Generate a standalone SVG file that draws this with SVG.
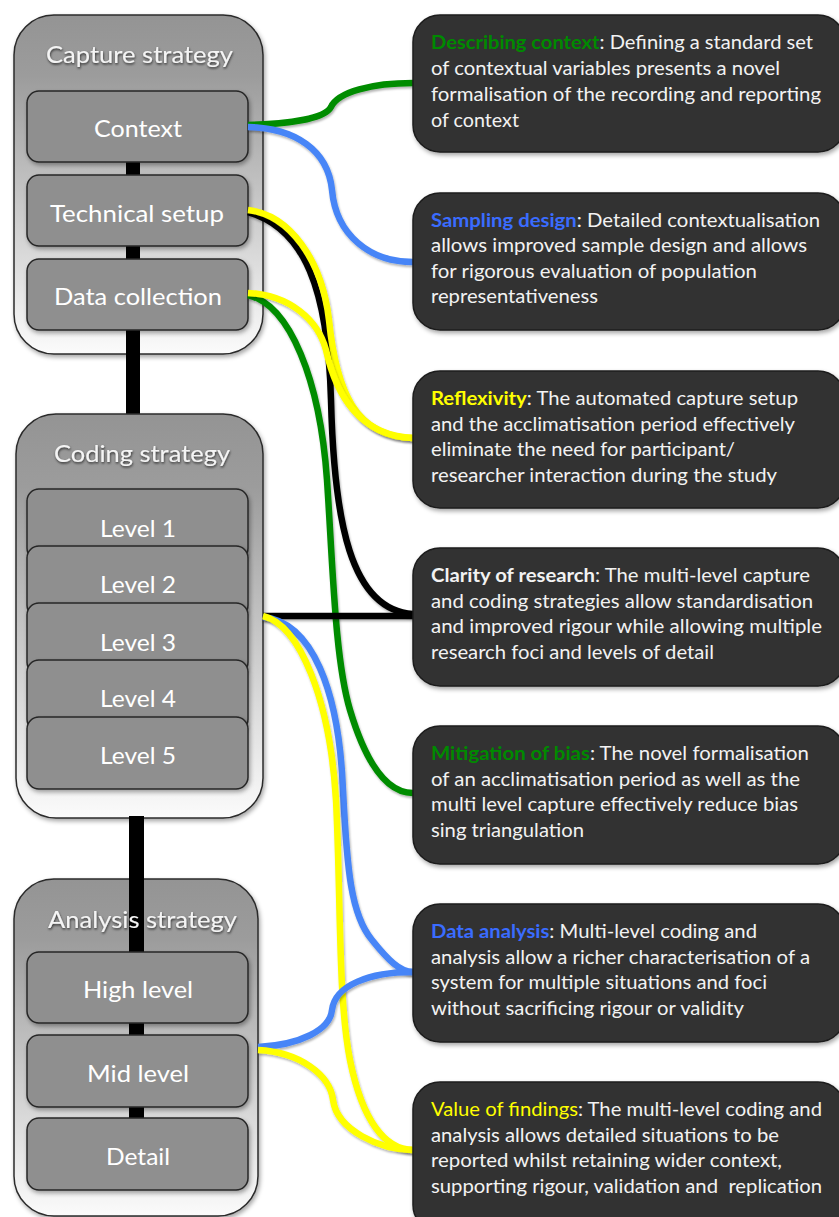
<svg xmlns="http://www.w3.org/2000/svg" width="839" height="1217" viewBox="0 0 839 1217">
<defs>
<linearGradient id="outerGrad" x1="0" y1="0" x2="0" y2="1">
<stop offset="0" stop-color="#949494"/>
<stop offset="0.18" stop-color="#9c9c9c"/>
<stop offset="1" stop-color="#fbfbfb"/>
</linearGradient>
<filter id="shadow" x="-10%" y="-10%" width="130%" height="130%">
<feDropShadow dx="1.5" dy="2.5" stdDeviation="2" flood-color="#000" flood-opacity="0.35"/>
</filter>
<filter id="lineShadow" filterUnits="userSpaceOnUse" x="0" y="0" width="839" height="1217">
<feDropShadow dx="1" dy="2" stdDeviation="1.2" flood-color="#000" flood-opacity="0.3"/>
</filter>
<filter id="textShadow" x="-10%" y="-30%" width="120%" height="160%">
<feDropShadow dx="0.5" dy="1.5" stdDeviation="1.2" flood-color="#000" flood-opacity="0.7"/>
</filter>
</defs>
<style>
.outer{fill:url(#outerGrad);stroke:#2b2b2b;stroke-width:1.5;filter:url(#shadow)}
.inner{fill:#8f8f8f;stroke:#262626;stroke-width:1.5;filter:url(#shadow)}
.lbl{font-family:Lato,"Liberation Sans",sans-serif;font-size:24px;fill:#ffffff}
.ttl{font-family:Lato,"Liberation Sans",sans-serif;font-size:24px;fill:#f4f4f4;filter:url(#textShadow)}
.spine{fill:#000}
.card{fill:#333333;stroke:#1c1c1c;stroke-width:1.5;filter:url(#shadow)}
.txt{font-family:Lato,"Liberation Sans",sans-serif;font-size:18.5px;fill:#f2f2f2}
.b{font-weight:bold}
.hg{fill:#008a00}
.hb{fill:#3a6cff}
.hy{fill:#ffff00}
.c{fill:none;stroke-width:6.5;stroke-linecap:butt;filter:url(#lineShadow)}
.cg{stroke:#008c00}
.cb{stroke:#4785f7}
.cy{stroke:#ffff00}
.ck{stroke:#000}
</style>

<g id="capture-strategy">
<rect class="outer" x="14" y="15" width="249" height="339" rx="40"/>
<rect class="spine" x="126" y="160" width="14" height="18"/>
<rect class="spine" x="126" y="244" width="14" height="18"/>
<rect class="spine" x="126" y="328" width="14" height="88"/>
<text class="ttl" x="46" y="63" textLength="187" lengthAdjust="spacingAndGlyphs">Capture strategy</text>
</g>
<g id="context">
<rect class="inner" x="27" y="91" width="221" height="71" rx="12"/>
<text class="lbl" x="94" y="137" textLength="88" lengthAdjust="spacingAndGlyphs">Context</text>
</g>
<g id="technical-setup">
<rect class="inner" x="27" y="175" width="221" height="71" rx="12"/>
<text class="lbl" x="50" y="222" textLength="174" lengthAdjust="spacingAndGlyphs">Technical setup</text>
</g>
<g id="data-collection">
<rect class="inner" x="27" y="259" width="221" height="71" rx="12"/>
<text class="lbl" x="54" y="305" textLength="168" lengthAdjust="spacingAndGlyphs">Data collection</text>
</g>

<g id="coding-strategy">
<rect class="outer" x="16" y="414" width="247" height="404" rx="40"/>
<text class="ttl" x="54" y="462" textLength="176" lengthAdjust="spacingAndGlyphs">Coding strategy</text>
</g>
<g id="level-1">
<rect class="inner" x="27" y="489" width="221" height="71" rx="12"/>
<text class="lbl" x="100" y="537" textLength="76" lengthAdjust="spacingAndGlyphs">Level 1</text>
</g>
<g id="level-2">
<rect class="inner" x="27" y="546" width="221" height="71" rx="12"/>
<text class="lbl" x="100" y="593" textLength="76" lengthAdjust="spacingAndGlyphs">Level 2</text>
</g>
<g id="level-3">
<rect class="inner" x="27" y="603" width="221" height="71" rx="12"/>
<text class="lbl" x="100" y="651" textLength="76" lengthAdjust="spacingAndGlyphs">Level 3</text>
</g>
<g id="level-4">
<rect class="inner" x="27" y="660" width="221" height="71" rx="12"/>
<text class="lbl" x="100" y="707" textLength="76" lengthAdjust="spacingAndGlyphs">Level 4</text>
</g>
<g id="level-5">
<rect class="inner" x="27" y="717" width="221" height="72" rx="12"/>
<text class="lbl" x="100" y="764" textLength="76" lengthAdjust="spacingAndGlyphs">Level 5</text>
</g>

<g id="analysis-strategy">
<rect class="spine" x="129" y="816" width="15" height="66"/>
<rect class="outer" x="14" y="879" width="244" height="337" rx="40"/>
<rect class="spine" x="129" y="878" width="15" height="76"/>
<rect class="spine" x="129" y="1021" width="15" height="16"/>
<rect class="spine" x="129" y="1105" width="15" height="15"/>
<text class="ttl" x="48" y="928" textLength="189" lengthAdjust="spacingAndGlyphs">Analysis strategy</text>
</g>
<g id="high-level">
<rect class="inner" x="27" y="952" width="221" height="71" rx="12"/>
<text class="lbl" x="83" y="998" textLength="110" lengthAdjust="spacingAndGlyphs">High level</text>
</g>
<g id="mid-level">
<rect class="inner" x="27" y="1035" width="221" height="72" rx="12"/>
<text class="lbl" x="87" y="1082" textLength="102" lengthAdjust="spacingAndGlyphs">Mid level</text>
</g>
<g id="detail">
<rect class="inner" x="27" y="1118" width="221" height="72" rx="12"/>
<text class="lbl" x="106" y="1165" textLength="64" lengthAdjust="spacingAndGlyphs">Detail</text>
</g>

<g id="connectors">
<path class="c cg" d="M248,125 C292,124 325,118 331,107 C338,92 372,83 413,83"/>
<path class="c cb" d="M248,127 C295,128 328,150 332,190 C336,235 370,262 413,262"/>
<path class="c ck" d="M248,212 C305,228 328,290 331,400 C334,520 350,610 413,614"/>
<path class="c cg" d="M248,295 C290,305 320,380 327,480 C333,570 335,660 350,710 C365,760 385,793 413,793"/>
<path class="c cy" d="M248,210 C290,215 322,260 329,320 C336,390 355,437 413,438"/>
<path class="c cy" d="M248,293 C290,295 318,320 326,350 C336,395 360,436 413,438"/>
<path class="c ck" d="M263,616 L413,616"/>
<path class="c cb" d="M263,617 C312,622 339,690 343,790 C347,870 351,915 372,940 C388,960 400,972 413,972"/>
<path class="c cy" d="M263,616 C300,625 330,700 336,800 C341,900 338,1000 350,1060 C362,1120 385,1150 413,1150"/>
<path class="c cb" d="M258,1047 C300,1045 330,1030 332,1010 C335,985 370,972 413,972"/>
<path class="c cy" d="M258,1050 C300,1052 330,1075 333,1100 C337,1130 380,1150 413,1150"/>
</g>

<g id="describing-context">
<rect class="card" x="413" y="15" width="432" height="137" rx="27"/>
<text class="txt" x="431" y="49" textLength="382" lengthAdjust="spacingAndGlyphs"><tspan class="b hg">Describing context</tspan>: Defining a standard set</text>
<text class="txt" x="431" y="75" textLength="349" lengthAdjust="spacingAndGlyphs">of contextual variables presents a novel</text>
<text class="txt" x="431" y="101" textLength="390" lengthAdjust="spacingAndGlyphs">formalisation of the recording and reporting</text>
<text class="txt" x="431" y="127" textLength="88" lengthAdjust="spacingAndGlyphs">of context</text>
</g>
<g id="sampling-design">
<rect class="card" x="413" y="193" width="432" height="137" rx="27"/>
<text class="txt" x="431" y="227" textLength="389" lengthAdjust="spacingAndGlyphs"><tspan class="b hb">Sampling design</tspan>: Detailed contextualisation</text>
<text class="txt" x="431" y="252" textLength="376" lengthAdjust="spacingAndGlyphs">allows improved sample design and allows</text>
<text class="txt" x="431" y="278" textLength="326" lengthAdjust="spacingAndGlyphs">for rigorous evaluation of population</text>
<text class="txt" x="431" y="303" textLength="167" lengthAdjust="spacingAndGlyphs">representativeness</text>
</g>
<g id="reflexivity">
<rect class="card" x="413" y="371" width="432" height="137" rx="27"/>
<text class="txt" x="431" y="405" textLength="367" lengthAdjust="spacingAndGlyphs"><tspan class="b hy">Reflexivity</tspan>: The automated capture setup</text>
<text class="txt" x="431" y="431" textLength="364" lengthAdjust="spacingAndGlyphs">and the acclimatisation period effectively</text>
<text class="txt" x="431" y="456" textLength="304" lengthAdjust="spacingAndGlyphs">eliminate the need for participant/</text>
<text class="txt" x="431" y="482" textLength="346" lengthAdjust="spacingAndGlyphs">researcher interaction during the study</text>
</g>
<g id="clarity-of-research">
<rect class="card" x="413" y="548" width="432" height="138" rx="27"/>
<text class="txt" x="431" y="582" textLength="379" lengthAdjust="spacingAndGlyphs"><tspan class="b">Clarity of research</tspan>: The multi-level capture</text>
<text class="txt" x="431" y="608" textLength="382" lengthAdjust="spacingAndGlyphs">and coding strategies allow standardisation</text>
<text class="txt" x="431" y="633" textLength="391" lengthAdjust="spacingAndGlyphs">and improved rigour while allowing multiple</text>
<text class="txt" x="431" y="659" textLength="283" lengthAdjust="spacingAndGlyphs">research foci and levels of detail</text>
</g>
<g id="mitigation-of-bias">
<rect class="card" x="413" y="726" width="432" height="138" rx="27"/>
<text class="txt" x="431" y="760" textLength="378" lengthAdjust="spacingAndGlyphs"><tspan class="b hg">Mitigation of bias</tspan>: The novel formalisation</text>
<text class="txt" x="431" y="786" textLength="369" lengthAdjust="spacingAndGlyphs">of an acclimatisation period as well as the</text>
<text class="txt" x="431" y="811" textLength="367" lengthAdjust="spacingAndGlyphs">multi level capture effectively reduce bias</text>
<text class="txt" x="431" y="837" textLength="153" lengthAdjust="spacingAndGlyphs">sing triangulation</text>
</g>
<g id="data-analysis">
<rect class="card" x="413" y="904" width="432" height="138" rx="27"/>
<text class="txt" x="431" y="938" textLength="326" lengthAdjust="spacingAndGlyphs"><tspan class="b hb">Data analysis</tspan>: Multi-level coding and</text>
<text class="txt" x="431" y="964" textLength="379" lengthAdjust="spacingAndGlyphs">analysis allow a richer characterisation of a</text>
<text class="txt" x="431" y="989" textLength="336" lengthAdjust="spacingAndGlyphs">system for multiple situations and foci</text>
<text class="txt" x="431" y="1015" textLength="313" lengthAdjust="spacingAndGlyphs">without sacrificing rigour or validity</text>
</g>
<g id="value-of-findings">
<rect class="card" x="413" y="1082" width="432" height="150" rx="27"/>
<text class="txt" x="431" y="1116" textLength="391" lengthAdjust="spacingAndGlyphs"><tspan class="hy">Value of findings</tspan>: The multi-level coding and</text>
<text class="txt" x="431" y="1142" textLength="348" lengthAdjust="spacingAndGlyphs">analysis allows detailed situations to be</text>
<text class="txt" x="431" y="1167" textLength="351" lengthAdjust="spacingAndGlyphs">reported whilst retaining wider context,</text>
<text class="txt" x="431" y="1193" textLength="391" lengthAdjust="spacingAndGlyphs" xml:space="preserve">supporting rigour, validation and  replication</text>
</g>
</svg>
